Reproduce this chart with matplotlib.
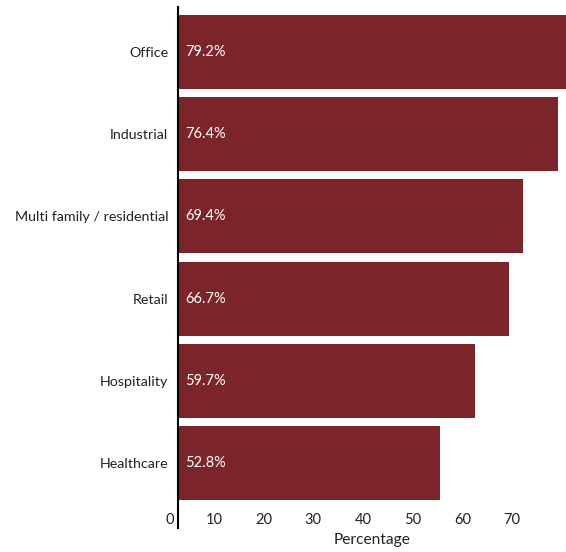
import matplotlib
matplotlib.use("Agg")
import matplotlib.pyplot as plt
from matplotlib.transforms import ScaledTranslation

categories = ["Office", "Industrial", "Multi family / residential", "Retail", "Hospitality", "Healthcare"]
values = [79.2, 76.4, 69.4, 66.7, 59.7, 52.8]
xticks = [0, 10, 20, 30, 40, 50, 60, 70]
xlabel = "Percentage"

W, H, DPI = 566, 552, 100
plt.rcParams['font.family'] = ['Lato', 'DejaVu Sans']
fig = plt.figure(figsize=(W / DPI, H / DPI), dpi=DPI)

left, right, top, bottom = 178, 566, 7, 528
ax = fig.add_axes([left / W, 1 - bottom / H, (right - left) / W, (bottom - top) / H])

bar_color = "#7B252A"
ypos = list(range(len(categories)))
ax.barh(ypos, values, height=0.9, color=bar_color, zorder=2)
for y, v in zip(ypos, values):
    ax.annotate(f"{v}%", (0, y), xytext=(7, 0), textcoords="offset pixels",
                ha="left", va="center", color="white", fontsize=10.5)

ax.set_xlim(0, 78.07)
ax.set_ylim(5.79, -0.547)
ax.set_yticks(ypos)
ax.set_yticklabels(categories, fontsize=10.3, color="#222222")
ax.tick_params(axis="y", length=0, pad=7)

ax.set_xticks(xticks)
ax.set_xticklabels([str(t) for t in xticks], fontsize=10.5, color="#222222")
ax.tick_params(axis="x", length=0, pad=0)
for t, lab in zip(xticks, ax.get_xticklabels()):
    dx = -8 if t == 0 else -13.7
    dy = 15
    lab.set_transform(lab.get_transform() + ScaledTranslation(dx / DPI, dy / DPI, fig.dpi_scale_trans))
    lab.set_va("top")

ax.set_xlabel(xlabel, fontsize=11.2, color="#222222")
ax.xaxis.set_label_coords(0.5, -(533 - 528) / (bottom - top))

for s in ["top", "right", "bottom"]:
    ax.spines[s].set_visible(False)
ax.spines["left"].set_linewidth(1.5)
ax.spines["left"].set_color("black")
ax.spines["left"].set_zorder(3)

fig.savefig("out.png", dpi=DPI)
